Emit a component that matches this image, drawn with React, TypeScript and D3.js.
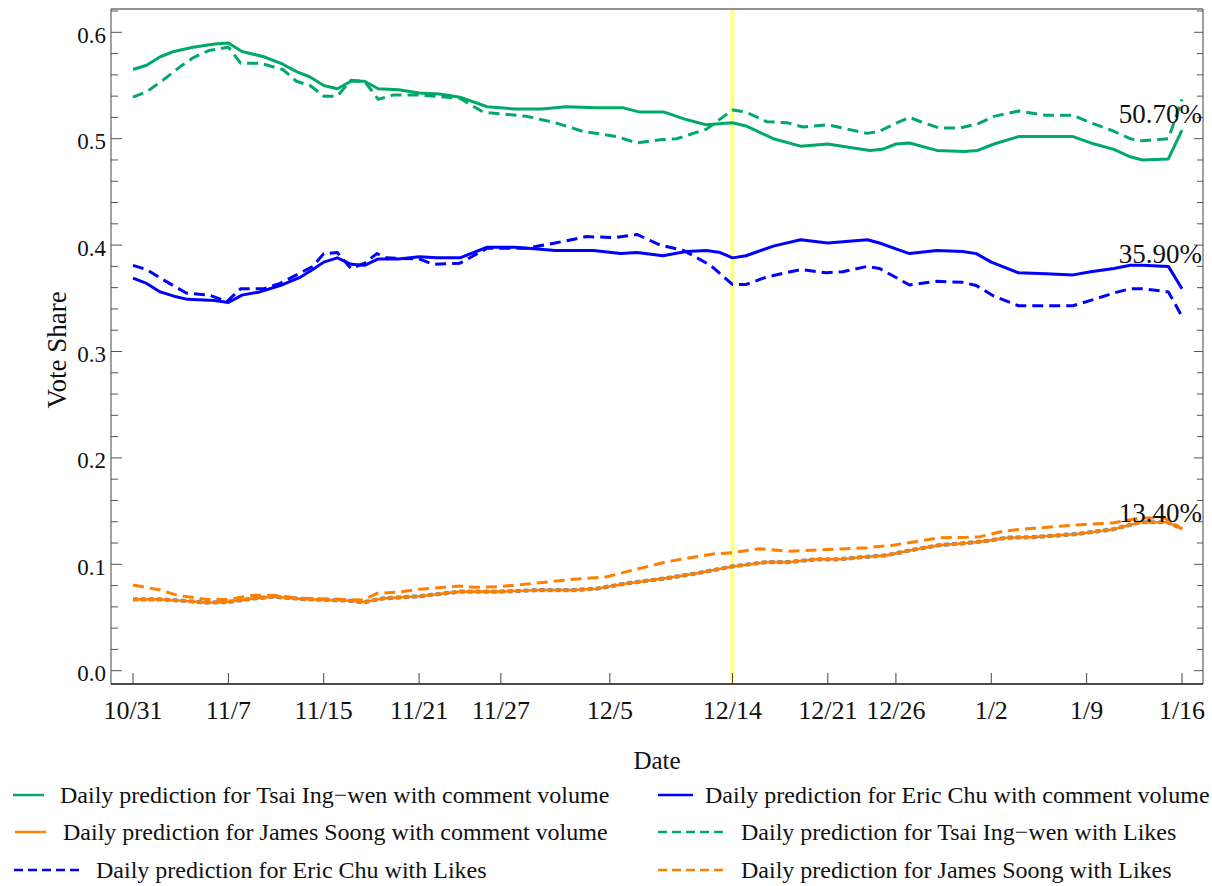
import React from "react";
import * as d3 from "d3";

type Pt = [number, number];

// x positions are day indices counted from 10/31 (day 0) to 1/16 (day 77)
const xTickDays = [0, 7, 14, 21, 27, 35, 44, 51, 56, 63, 70, 77];
const xTickLabels = ["10/31", "11/7", "11/15", "11/21", "11/27", "12/5", "12/14", "12/21", "12/26", "1/2", "1/9", "1/16"];
const yMajorTicks = [0, 0.1, 0.2, 0.3, 0.4, 0.5, 0.6];
const yMinorTicks = d3.range(0, 32).map((i) => i * 0.02);
const markerDay = 44;

const tsaiComment: Pt[] = [
  [0, 0.565], [1, 0.569], [2, 0.577], [3, 0.582], [4.4, 0.586], [6, 0.589], [7, 0.59], [8, 0.582], [9.6, 0.577],
  [11, 0.57], [12, 0.563], [13, 0.558], [14, 0.55], [15, 0.547], [16, 0.554], [17, 0.554], [18, 0.547], [19.5, 0.546],
  [21, 0.543], [22.5, 0.542], [24, 0.539], [26, 0.53], [28, 0.528], [30, 0.528], [31.8, 0.53], [34, 0.529], [36, 0.529],
  [37.2, 0.525], [39, 0.525], [40.6, 0.518], [42.1, 0.513], [44, 0.515], [45, 0.512], [47, 0.5], [49, 0.493], [51, 0.495],
  [53, 0.491], [54.1, 0.489], [55, 0.49], [56, 0.495], [57, 0.496], [59, 0.489], [61, 0.488], [62, 0.489], [63.2, 0.495],
  [65, 0.502], [67, 0.502], [69, 0.502], [70.3, 0.496], [72, 0.49], [73.2, 0.483], [74.1, 0.48], [76, 0.481], [77, 0.508],
];

const tsaiLikes: Pt[] = [
  [0, 0.539], [1, 0.544], [2.2, 0.555], [3.5, 0.568], [4.4, 0.576], [5.6, 0.583], [7, 0.586], [7.9, 0.571], [9.3, 0.571],
  [11, 0.565], [12, 0.554], [13, 0.55], [14, 0.54], [15, 0.54], [16, 0.555], [17, 0.554], [18, 0.537], [19.1, 0.541],
  [21, 0.541], [24, 0.538], [25.7, 0.525], [28.9, 0.521], [31, 0.515], [33, 0.507], [35.5, 0.502], [37, 0.496],
  [38.7, 0.499], [39.9, 0.5], [42.1, 0.509], [44, 0.527], [45, 0.525], [46.5, 0.516], [48, 0.515], [49.2, 0.511],
  [51, 0.513], [52.1, 0.51], [53.9, 0.505], [54.8, 0.507], [56.1, 0.515], [57, 0.52], [58, 0.515], [59.2, 0.51],
  [60.7, 0.51], [62, 0.514], [63.2, 0.521], [65, 0.526], [67, 0.522], [69, 0.522], [70.3, 0.515], [72, 0.507],
  [73.2, 0.5], [74.1, 0.498], [76, 0.5], [77, 0.537],
];

const chuComment: Pt[] = [
  [0, 0.369], [1, 0.364], [2, 0.356], [3, 0.352], [4, 0.349], [6, 0.348], [7, 0.346], [8, 0.353], [9.3, 0.356],
  [10.8, 0.362], [12.3, 0.37], [13.2, 0.377], [14, 0.384], [15, 0.388], [16, 0.382], [17, 0.381], [18, 0.387],
  [19.5, 0.387], [21, 0.389], [22.3, 0.388], [24, 0.388], [26, 0.398], [28, 0.398], [29, 0.397], [31, 0.395],
  [33.8, 0.395], [35.8, 0.392], [37, 0.393], [38.9, 0.39], [40.6, 0.394], [42.1, 0.395], [43.1, 0.393], [44, 0.388],
  [45, 0.39], [47, 0.399], [49, 0.405], [51, 0.402], [53.9, 0.405], [54.8, 0.402], [56.1, 0.396], [57, 0.392],
  [59, 0.395], [60.9, 0.394], [61.9, 0.392], [63, 0.384], [65, 0.374], [67, 0.373], [69, 0.372], [70.3, 0.375],
  [72, 0.378], [73.2, 0.381], [74.1, 0.381], [76, 0.38], [77, 0.359],
];

const chuLikes: Pt[] = [
  [0, 0.381], [1, 0.377], [2, 0.369], [3.9, 0.355], [5.6, 0.353], [6.9, 0.347], [7.9, 0.359], [9.6, 0.359],
  [10.8, 0.364], [12.3, 0.374], [13.2, 0.38], [14, 0.392], [15, 0.393], [16, 0.378], [17, 0.383], [17.9, 0.392],
  [18.6, 0.388], [21, 0.387], [22, 0.382], [24, 0.383], [26, 0.397], [28.9, 0.397], [31, 0.402], [33.3, 0.408],
  [35.3, 0.407], [37, 0.41], [38.7, 0.4], [40.4, 0.395], [42.4, 0.381], [44, 0.363], [45, 0.363], [46.5, 0.37],
  [49, 0.377], [50.9, 0.374], [52.1, 0.375], [53.9, 0.38], [54.8, 0.378], [57, 0.3625], [59, 0.366], [60.9, 0.365],
  [61.9, 0.362], [63.2, 0.352], [65, 0.343], [67, 0.343], [69, 0.343], [70.3, 0.348], [72, 0.355], [73.2, 0.359],
  [74.1, 0.359], [76, 0.356], [77, 0.333],
];

const soongComment: Pt[] = [
  [0, 0.067], [2, 0.067], [3.9, 0.0655], [5.4, 0.064], [6.9, 0.0645], [8.9, 0.068], [10.3, 0.0695], [12.3, 0.0675],
  [14.2, 0.0665], [15.7, 0.066], [16.9, 0.0643], [18.4, 0.068], [21, 0.07], [24, 0.0743], [26.9, 0.0743], [29.9, 0.0758],
  [32.3, 0.0758], [34, 0.077], [36.2, 0.082], [39.2, 0.087], [41.6, 0.092], [44, 0.098], [46.5, 0.102], [48, 0.102],
  [50.2, 0.1047], [51.9, 0.1047], [53.4, 0.1066], [55.3, 0.1084], [57, 0.113], [59.2, 0.118], [61.2, 0.12],
  [62.7, 0.122], [64.1, 0.125], [66.1, 0.1255], [69.3, 0.1285], [72, 0.133], [73.9, 0.1395], [75.9, 0.1395], [77, 0.134],
];

const soongLikes: Pt[] = [
  [0, 0.0805], [2, 0.0758], [3.2, 0.071], [5.4, 0.067], [6.9, 0.067], [8.9, 0.071], [10.3, 0.071], [12.3, 0.068],
  [14.7, 0.0674], [16.9, 0.0664], [17.9, 0.0727], [19.6, 0.074], [21, 0.0765], [24, 0.0796], [25, 0.0784], [26.9, 0.079],
  [29.9, 0.0827], [32.3, 0.0859], [34.8, 0.0883], [36.7, 0.0946], [39.2, 0.1024], [41.1, 0.1066], [42.6, 0.1097],
  [44, 0.111], [46, 0.1147], [48, 0.1123], [50.2, 0.1134], [51.9, 0.1144], [53.9, 0.1156], [55.8, 0.118], [57.8, 0.122],
  [59.2, 0.125], [61.2, 0.1254], [62.2, 0.126], [63.7, 0.1306], [65.1, 0.1329], [66.1, 0.1338], [69.3, 0.137],
  [72, 0.139], [73.9, 0.1435], [75.7, 0.1435], [77, 0.133],
];

const endLabels = ["50.70%", "35.90%", "13.40%"];
const endLabelValues = [0.507, 0.359, 0.134];

const legendLabels = [
  "Daily prediction for Tsai Ing\u2212wen with comment volume",
  "Daily prediction for James Soong with comment volume",
  "Daily prediction for Eric Chu with Likes",
  "Daily prediction for Eric Chu with comment volume",
  "Daily prediction for Tsai Ing\u2212wen with Likes",
  "Daily prediction for James Soong with Likes",
];

const GREEN = "#00A968";
const BLUE = "#0000FF";
const ORANGE = "#FF8000";
const FONT = "'Liberation Serif', 'DejaVu Serif', serif";

export default function App() {
  const W = 1212;
  const H = 886;
  const left = 111, right = 1203, top = 9, bottom = 684;

  const x = d3.scaleLinear().domain([0, 77]).range([133, 1182]);
  const y = d3.scaleLinear().domain([0, 0.6]).range([670.7, 32.3]);
  const line = d3.line<Pt>().x((d) => x(d[0])).y((d) => y(d[1]));

  const dash = "11,6";
  const series = [
    { data: soongComment, color: "#8a8a8a", dash: "5,3", w: 4.2 },
    { data: soongComment, color: ORANGE, dash: undefined, w: 2.6 },
    { data: soongLikes, color: ORANGE, dash, w: 3 },
    { data: chuComment, color: BLUE, dash: undefined, w: 3 },
    { data: chuLikes, color: BLUE, dash, w: 3 },
    { data: tsaiComment, color: GREEN, dash: undefined, w: 3 },
    { data: tsaiLikes, color: GREEN, dash, w: 3 },
  ];

  const legend = [
    { x1: 13, x2: 44, tx: 60, y: 795, color: GREEN, dashed: false, label: legendLabels[0] },
    { x1: 15, x2: 46, tx: 63, y: 832, color: ORANGE, dashed: false, label: legendLabels[1] },
    { x1: 14, x2: 81, tx: 96, y: 870, color: BLUE, dashed: true, label: legendLabels[2] },
    { x1: 658, x2: 693, tx: 705, y: 795, color: BLUE, dashed: false, label: legendLabels[3] },
    { x1: 658, x2: 725, tx: 741, y: 832, color: GREEN, dashed: true, label: legendLabels[4] },
    { x1: 658, x2: 725, tx: 741, y: 870, color: ORANGE, dashed: true, label: legendLabels[5] },
  ];
  const endOffsets = [-8, -26, -6];

  return (
    <svg width={W} height={H} style={{ position: "absolute", left: 0, top: 0, background: "#fff" }} fontFamily={FONT}>
      <rect x={0} y={0} width={W} height={H} fill="#fff" />
      <defs>
        <clipPath id="plotclip">
          <rect x={left} y={top} width={right - left} height={bottom - top} />
        </clipPath>
      </defs>
      {/* marker line */}
      <line x1={x(markerDay)} x2={x(markerDay)} y1={top} y2={bottom} stroke="#FFFF80" strokeWidth={4} />
      {/* series */}
      <g clipPath="url(#plotclip)">
        {series.map((s, i) => (
          <path key={i} d={line(s.data) || ""} fill="none" stroke={s.color} strokeWidth={s.w}
            strokeDasharray={s.dash} strokeLinejoin="round" />
        ))}
      </g>
      {/* frame */}
      <line x1={left} x2={right} y1={top} y2={top} stroke="#6e6e6e" strokeWidth={1.3} />
      <line x1={right} x2={right} y1={top} y2={bottom} stroke="#6e6e6e" strokeWidth={1.3} />
      <line x1={left} x2={left} y1={top} y2={bottom} stroke="#6e6e6e" strokeWidth={1.3} />
      <line x1={left} x2={right} y1={bottom} y2={bottom} stroke="#111" strokeWidth={1.3} />
      {/* y ticks */}
      {yMinorTicks.map((v, i) => {
        const major = yMajorTicks.some((m) => Math.abs(m - v) < 1e-6);
        return (
          <g key={i}>
            <line x1={left} x2={left + (major ? 11 : 7)} y1={y(v)} y2={y(v)} stroke="#555" strokeWidth={1} />
            <line x1={right} x2={right - (major ? 9 : 6)} y1={y(v)} y2={y(v)} stroke="#555" strokeWidth={1} />
          </g>
        );
      })}
      {yMajorTicks.map((v, i) => (
        <text key={i} x={106} y={y(v) + 10.5} fontSize={23} textAnchor="end" fill="#111">{v.toFixed(1)}</text>
      ))}
      {/* x ticks */}
      {xTickDays.map((d, i) => (
        <g key={i}>
          <line x1={x(d)} x2={x(d)} y1={bottom} y2={bottom - 11} stroke="#444" strokeWidth={1} />
          <text x={x(d)} y={719} fontSize={26} textAnchor="middle" fill="#111">{xTickLabels[i]}</text>
        </g>
      ))}
      {/* axis labels */}
      <text x={657} y={769} fontSize={25} textAnchor="middle" fill="#111">Date</text>
      <text transform={`translate(66,350) rotate(-90)`} fontSize={27} textAnchor="middle" fill="#111">Vote Share</text>
      {/* end labels */}
      {endLabels.map((t, i) => (
        <text key={i} x={1202} y={y(endLabelValues[i]) + endOffsets[i]} fontSize={27} textAnchor="end" fill="#111">{t}</text>
      ))}
      {/* legend */}
      {legend.map((l, i) => (
        <g key={i}>
          <line x1={l.x1} x2={l.x2} y1={l.y} y2={l.y} stroke={l.color} strokeWidth={2.5}
            strokeDasharray={l.dashed ? "9,5" : undefined} />
          <text x={l.tx} y={l.y + 8} fontSize={24} fill="#111">{l.label}</text>
        </g>
      ))}
    </svg>
  );
}
